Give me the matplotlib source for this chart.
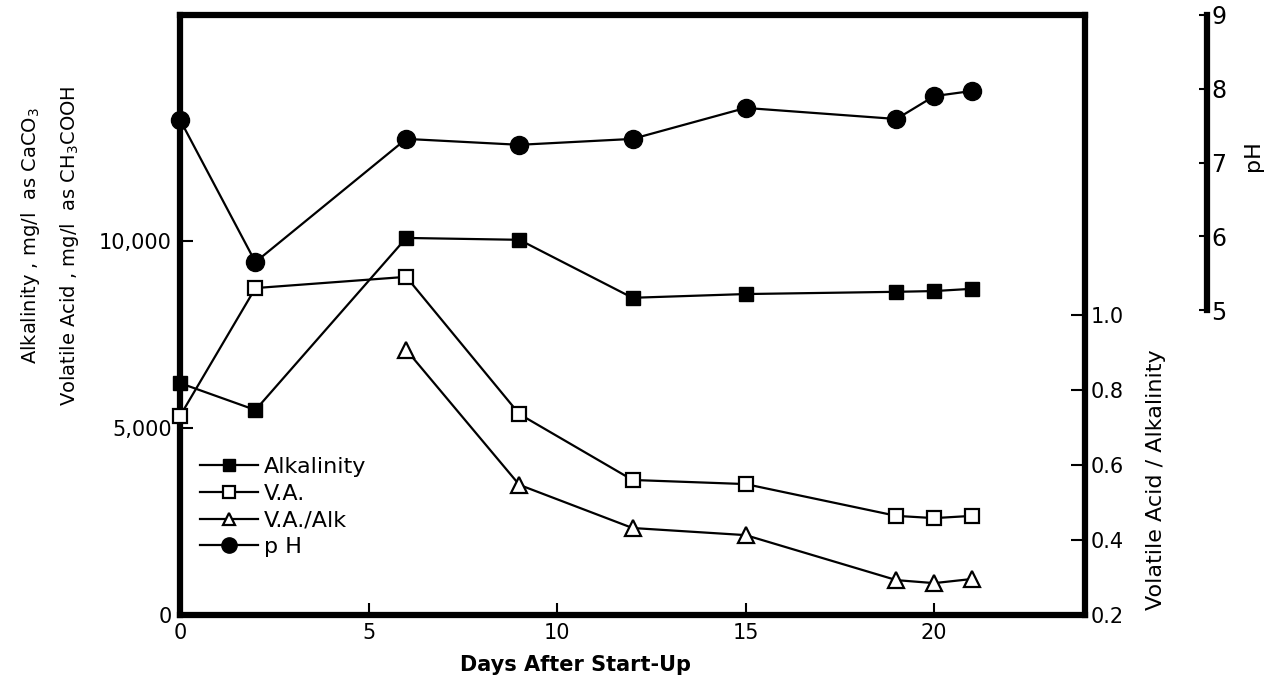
import matplotlib.pyplot as plt
from matplotlib.lines import Line2D

plt.rcParams['font.family'] = ['DejaVu Sans']

# days after start-up
days = [0, 2, 6, 9, 12, 15, 19, 20, 21]
alkalinity = [6200, 5480, 10080, 10030, 8480, 8580, 8640, 8660, 8720]
volatile_acid = [5320, 8740, 9040, 5370, 3610, 3500, 2650, 2590, 2650]
ph = [7.58, 5.65, 7.32, 7.24, 7.32, 7.74, 7.59, 7.90, 7.97]

ratio_days = [6, 9, 12, 15, 19, 20, 21]
va_alk = [0.907, 0.547, 0.432, 0.413, 0.293, 0.285, 0.296]

x_ticks = [0, 5, 10, 15, 20]
left_ticks = [0, 5000, 10000]
left_labels = ['0', '5,000', '10,000']
ratio_ticks = [0.2, 0.4, 0.6, 0.8, 1.0]
ph_ticks = [5, 6, 7, 8, 9]

fig = plt.figure(figsize=(12.81, 6.87), dpi=100)
ax = fig.add_axes([180 / 1281, 72 / 687, 905 / 1281, 600 / 687])
ax2 = ax.twinx()
ax3 = ax.twinx()

lw = 1.6
ax.plot(days, alkalinity, color='k', lw=lw, marker='s', ms=10, mfc='k', mec='k', clip_on=False, zorder=3)
ax.plot(days, volatile_acid, color='k', lw=lw, marker='s', ms=10, mfc='white', mec='k', mew=1.6, clip_on=False, zorder=3)
ax2.plot(ratio_days, va_alk, color='k', lw=lw, marker='^', ms=12, mfc='white', mec='k', mew=1.6, clip_on=False, zorder=3)
ax3.plot(days, ph, color='k', lw=lw, marker='o', ms=13, mfc='k', mec='k', clip_on=False, zorder=3)

ax.set_xlim(0, 24)
ax.set_ylim(0, 16040)
ax2.set_ylim(0.2, 1.8)
ax3.set_ylim(0.865, 9)

for s in ax.spines.values():
    s.set_linewidth(4.5)
for s in ax2.spines.values():
    s.set_visible(False)
for name, s in ax3.spines.items():
    s.set_visible(name == 'right')
ax3.spines['right'].set_position(('axes', 1.135))
ax3.spines['right'].set_linewidth(4.5)
ax3.spines['right'].set_bounds(5, 9)

ax.set_xticks(x_ticks)
ax.set_xticklabels([str(t) for t in x_ticks])
ax.set_yticks(left_ticks)
ax.set_yticklabels(left_labels)
ax.tick_params(axis='both', direction='in', length=9, width=1.5, labelsize=15, pad=6)

ax2.set_yticks(ratio_ticks)
ax2.set_yticklabels(['0.2', '0.4', '0.6', '0.8', '1.0'])
ax2.tick_params(axis='y', direction='in', length=10, width=1.5, labelsize=15, pad=4)

ax3.set_yticks(ph_ticks)
ax3.set_yticklabels([str(t) for t in ph_ticks])
ax3.tick_params(axis='y', direction='in', length=6, width=1.5, labelsize=17, pad=3)

fig.text(30 / 1281, 1 - 236 / 687, 'Alkalinity , mg/l  as CaCO$_3$', rotation=90,
         ha='center', va='center', fontsize=14)
fig.text(70 / 1281, 1 - 246 / 687, 'Volatile Acid , mg/l  as CH$_3$COOH', rotation=90,
         ha='center', va='center', fontsize=14)
fig.text(1156 / 1281, 1 - 480 / 687, 'Volatile Acid / Alkalinity', rotation=90,
         ha='center', va='center', fontsize=16)
fig.text(1253 / 1281, 1 - 156 / 687, 'pH', rotation=90, ha='center', va='center', fontsize=16)
fig.text(575 / 1281, 1 - 665 / 687, 'Days After Start-Up', ha='center', va='center',
         fontsize=15, fontweight='bold')

handles = [
    Line2D([], [], color='k', lw=lw, marker='s', ms=9, mfc='k', mec='k'),
    Line2D([], [], color='k', lw=lw, marker='s', ms=9, mfc='white', mec='k', mew=1.6),
    Line2D([], [], color='k', lw=lw, marker='^', ms=9, mfc='white', mec='k', mew=1.6),
    Line2D([], [], color='k', lw=lw, marker='o', ms=11, mfc='k', mec='k'),
]
ax.legend(handles, ['Alkalinity', 'V.A.', 'V.A./Alk', 'p H'], loc='upper left',
          bbox_to_anchor=(0.012, 0.278), frameon=False, fontsize=16,
          handlelength=2.6, handletextpad=0.3, labelspacing=0.3, borderaxespad=0)

fig.savefig('out.png', dpi=100)
